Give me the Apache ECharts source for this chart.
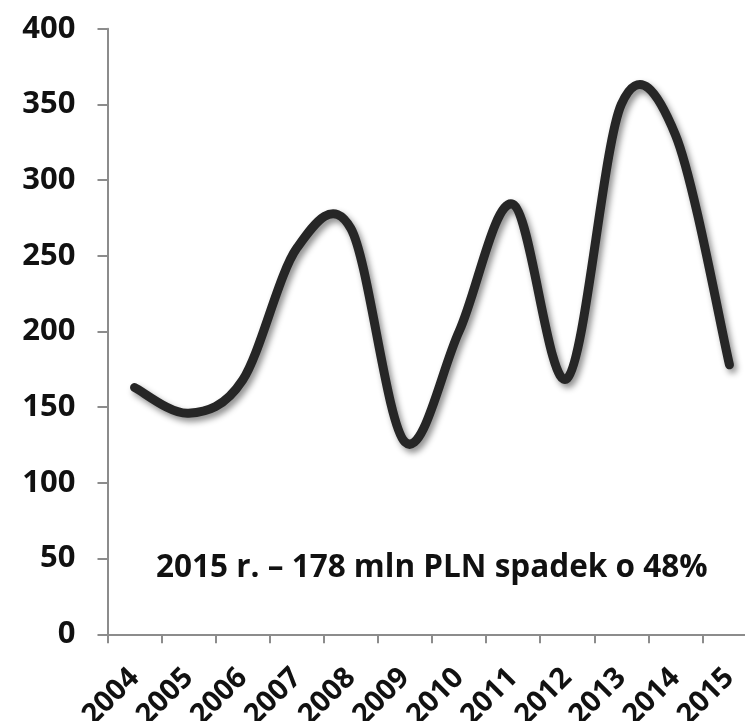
<!DOCTYPE html>
<html>
<head>
<meta charset="utf-8">
<script src="https://cdn.jsdelivr.net/npm/echarts@6/dist/echarts.min.js"></script>
<style>
  html, body { margin: 0; padding: 0; background: #fff; }
  #chart { width: 745px; height: 721px; }
</style>
</head>
<body>
<div id="chart"></div>
<script>
// data
var years = ['2004', '2005', '2006', '2007', '2008', '2009', '2010', '2011', '2012', '2013', '2014', '2015'];
var values = [163, 146, 168, 255, 268, 127, 200, 284, 169, 350, 330, 178];
var yTicks = [0, 50, 100, 150, 200, 250, 300, 350, 400];
var note = '2015 r. – 178 mln PLN spadek o 48%';

var chart = echarts.init(document.getElementById('chart'));

// smooth curve through all points (Catmull-Rom -> bezier), points come from api.coord
function renderCurve(params, api) {
  if (params.dataIndex !== 0) return null;
  var pts = [];
  for (var i = 0; i < values.length; i++) {
    pts.push(api.coord([i, values[i]]));
  }
  var d = 'M' + pts[0][0] + ' ' + pts[0][1];
  for (var k = 0; k < pts.length - 1; k++) {
    var p0 = pts[Math.max(k - 1, 0)];
    var p1 = pts[k];
    var p2 = pts[k + 1];
    var p3 = pts[Math.min(k + 2, pts.length - 1)];
    var c1x = p1[0] + (p2[0] - p0[0]) / 6;
    var c1y = p1[1] + (p2[1] - p0[1]) / 6;
    var c2x = p2[0] - (p3[0] - p1[0]) / 6;
    var c2y = p2[1] - (p3[1] - p1[1]) / 6;
    d += ' C' + c1x + ' ' + c1y + ' ' + c2x + ' ' + c2y + ' ' + p2[0] + ' ' + p2[1];
  }
  return {
    type: 'path',
    shape: { pathData: d },
    style: {
      fill: null,
      stroke: '#262626',
      lineWidth: 9,
      lineCap: 'round',
      lineJoin: 'round',
      shadowColor: 'rgba(0,0,0,0.45)',
      shadowBlur: 6,
      shadowOffsetX: 3,
      shadowOffsetY: 4
    }
  };
}

var option = {
  backgroundColor: '#fff',
  animation: false,
  grid: { left: 107.5, top: 28.7, width: 649, height: 605.6, outerBoundsMode: 'none', containLabel: false },
  xAxis: {
    type: 'category',
    data: years,
    boundaryGap: true,
    axisLine: { lineStyle: { color: '#8c8c8c', width: 2 } },
    axisTick: { show: true, length: 9, lineStyle: { color: '#8c8c8c', width: 2 } },
    axisLabel: {
      rotate: 45,
      interval: 0,
      margin: 39,
      color: '#111',
      fontFamily: 'Open Sans',
      fontWeight: 'bold',
      fontSize: 29
    }
  },
  yAxis: {
    type: 'value',
    min: yTicks[0],
    max: yTicks[yTicks.length - 1],
    interval: 50,
    splitLine: { show: false },
    axisLine: { show: true, lineStyle: { color: '#8c8c8c', width: 2 } },
    axisTick: { show: true, length: 10, lineStyle: { color: '#8c8c8c', width: 2 } },
    axisLabel: {
      margin: 32,
      color: '#111',
      fontFamily: 'Open Sans',
      fontWeight: 'bold',
      fontSize: 31
    }
  },
  series: [{
    type: 'custom',
    data: values.map(function (v, i) { return [i, v]; }),
    renderItem: renderCurve,
    clip: false
  }],
  graphic: [{
    type: 'text',
    left: 156,
    top: 552,
    style: {
      text: note,
      fill: '#111',
      font: 'bold 31.5px "Open Sans"'
    }
  }]
};

chart.setOption(option);
</script>
</body>
</html>
